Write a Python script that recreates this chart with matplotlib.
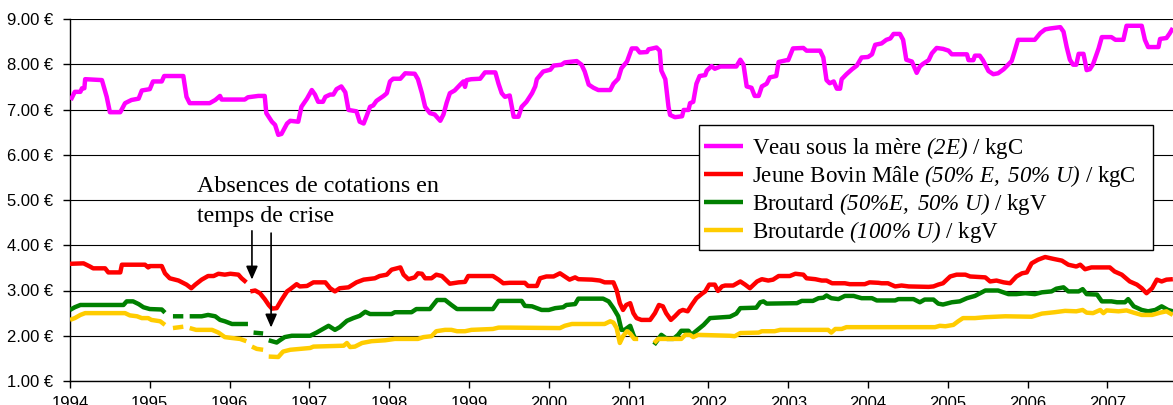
import numpy as np
import matplotlib
matplotlib.use("Agg")
import matplotlib.pyplot as plt
from matplotlib.ticker import FuncFormatter, MultipleLocator

nan = np.nan

# Veau sous la mère (2E) / kgC
veau_t = [1994.01, 1994.06, 1994.13, 1994.15, 1994.18, 1994.19, 1994.40, 1994.46, 1994.50, 1994.63,
          1994.69, 1994.77, 1994.86, 1994.90, 1995.00, 1995.04, 1995.15, 1995.18, 1995.42, 1995.46,
          1995.50, 1995.75, 1995.82, 1995.88, 1995.90, 1996.19, 1996.23, 1996.36, 1996.44, 1996.46,
          1996.53, 1996.57, 1996.61, 1996.65, 1996.72, 1996.76, 1996.86, 1996.90, 1996.97, 1997.03,
          1997.07, 1997.11, 1997.17, 1997.20, 1997.26, 1997.30, 1997.34, 1997.40, 1997.45, 1997.49,
          1997.59, 1997.63, 1997.68, 1997.72, 1997.76, 1997.80, 1997.84, 1997.93, 1997.97, 1998.01,
          1998.05, 1998.14, 1998.20, 1998.32, 1998.36, 1998.41, 1998.45, 1998.51, 1998.57, 1998.64,
          1998.68, 1998.72, 1998.76, 1998.82, 1998.89, 1998.93, 1998.95, 1998.97, 1999.03, 1999.14,
          1999.20, 1999.33, 1999.37, 1999.41, 1999.45, 1999.51, 1999.56, 1999.62, 1999.66, 1999.72,
          1999.79, 1999.83, 1999.85, 1999.93, 2000.02, 2000.06, 2000.16, 2000.20, 2000.35, 2000.41,
          2000.45, 2000.50, 2000.56, 2000.62, 2000.77, 2000.81, 2000.87, 2000.91, 2000.98, 2001.04,
          2001.10, 2001.14, 2001.23, 2001.25, 2001.35, 2001.39, 2001.41, 2001.46, 2001.50, 2001.52,
          2001.58, 2001.67, 2001.69, 2001.75, 2001.77, 2001.81, 2001.85, 2001.89, 2001.96, 2001.98,
          2002.04, 2002.08, 2002.15, 2002.35, 2002.40, 2002.44, 2002.48, 2002.54, 2002.58, 2002.63,
          2002.67, 2002.73, 2002.77, 2002.85, 2002.88, 2002.98, 2003.00, 2003.06, 2003.19, 2003.23,
          2003.40, 2003.44, 2003.48, 2003.52, 2003.57, 2003.61, 2003.65, 2003.67, 2003.73, 2003.80,
          2003.86, 2003.92, 2004.00, 2004.05, 2004.09, 2004.17, 2004.23, 2004.28, 2004.32, 2004.40,
          2004.44, 2004.48, 2004.55, 2004.61, 2004.65, 2004.69, 2004.76, 2004.80, 2004.86, 2004.94,
          2005.01, 2005.05, 2005.24, 2005.26, 2005.32, 2005.34, 2005.40, 2005.44, 2005.51, 2005.57,
          2005.63, 2005.70, 2005.76, 2005.80, 2005.84, 2005.88, 2006.09, 2006.16, 2006.22, 2006.28,
          2006.41, 2006.45, 2006.49, 2006.53, 2006.57, 2006.61, 2006.64, 2006.70, 2006.72, 2006.74,
          2006.78, 2006.82, 2006.89, 2006.93, 2007.05, 2007.10, 2007.20, 2007.24, 2007.43, 2007.47,
          2007.51, 2007.64, 2007.66, 2007.74, 2007.78, 2007.82]
veau_v = [7.21, 7.39, 7.39, 7.47, 7.47, 7.67, 7.65, 7.28, 6.94, 6.94,
          7.14, 7.21, 7.24, 7.42, 7.45, 7.62, 7.62, 7.74, 7.74, 7.28,
          7.14, 7.14, 7.21, 7.30, 7.22, 7.22, 7.27, 7.30, 7.30, 6.92,
          6.73, 6.66, 6.44, 6.46, 6.69, 6.75, 6.73, 7.06, 7.24, 7.43,
          7.33, 7.17, 7.17, 7.28, 7.33, 7.33, 7.45, 7.51, 7.38, 6.99,
          6.96, 6.73, 6.69, 6.87, 7.06, 7.09, 7.19, 7.30, 7.36, 7.62,
          7.68, 7.68, 7.80, 7.79, 7.67, 7.36, 7.06, 6.92, 6.89, 6.75,
          6.89, 7.15, 7.36, 7.42, 7.55, 7.62, 7.50, 7.65, 7.67, 7.68,
          7.82, 7.82, 7.57, 7.36, 7.28, 7.31, 6.84, 6.84, 7.06, 7.17,
          7.36, 7.51, 7.67, 7.84, 7.88, 7.97, 7.99, 8.04, 8.07, 7.99,
          7.84, 7.55, 7.48, 7.43, 7.43, 7.57, 7.68, 7.91, 8.06, 8.35,
          8.35, 8.26, 8.27, 8.33, 8.37, 8.30, 7.86, 7.67, 7.06, 6.88,
          6.83, 6.85, 6.99, 6.99, 7.14, 7.17, 7.57, 7.74, 7.76, 7.86,
          7.96, 7.90, 7.95, 7.95, 8.10, 7.99, 7.51, 7.48, 7.30, 7.30,
          7.51, 7.57, 7.71, 7.74, 8.05, 8.09, 8.09, 8.35, 8.36, 8.30,
          8.30, 8.15, 7.65, 7.58, 7.62, 7.46, 7.46, 7.67, 7.78, 7.89,
          7.97, 8.15, 8.16, 8.22, 8.43, 8.46, 8.54, 8.57, 8.67, 8.67,
          8.54, 8.10, 8.06, 7.81, 7.95, 8.01, 8.09, 8.24, 8.36, 8.34,
          8.30, 8.22, 8.22, 8.09, 8.09, 8.19, 8.19, 8.09, 7.85, 7.78,
          7.80, 7.89, 8.00, 8.07, 8.30, 8.54, 8.54, 8.69, 8.77, 8.79,
          8.82, 8.72, 8.38, 8.10, 7.99, 7.99, 8.23, 8.23, 8.06, 7.87,
          7.89, 8.00, 8.35, 8.60, 8.60, 8.54, 8.54, 8.85, 8.85, 8.54,
          8.38, 8.38, 8.56, 8.58, 8.68, 8.80]

# Jeune Bovin Mâle (50% E, 50% U) / kgC
jb_t = [1994.00, 1994.17, 1994.25, 1994.29, 1994.44, 1994.48, 1994.63, 1994.65, 1994.94, 1994.98,
        1995.00, 1995.15, 1995.19, 1995.25, 1995.36, 1995.46, 1995.52, 1995.57, 1995.65, 1995.73,
        1995.80, 1995.86, 1995.94, 1996.01, 1996.11, 1996.15, 1996.21, 1996.235, 1996.26, 1996.32,
        1996.38, 1996.44, 1996.49, 1996.53, 1996.59, 1996.65, 1996.72, 1996.76, 1996.84, 1996.88,
        1996.97, 1997.05, 1997.20, 1997.26, 1997.32, 1997.38, 1997.49, 1997.59, 1997.68, 1997.82,
        1997.88, 1997.97, 1998.03, 1998.14, 1998.18, 1998.24, 1998.32, 1998.36, 1998.41, 1998.45,
        1998.53, 1998.59, 1998.66, 1998.76, 1998.87, 1998.95, 1998.99, 1999.30, 1999.37, 1999.43,
        1999.51, 1999.70, 1999.74, 1999.85, 1999.89, 1999.97, 2000.06, 2000.14, 2000.20, 2000.26,
        2000.33, 2000.37, 2000.54, 2000.64, 2000.70, 2000.81, 2000.85, 2000.89, 2000.93, 2000.97,
        2001.02, 2001.06, 2001.10, 2001.16, 2001.27, 2001.33, 2001.38, 2001.43, 2001.47, 2001.53,
        2001.58, 2001.64, 2001.68, 2001.74, 2001.79, 2001.85, 2001.92, 2001.96, 2002.01, 2002.08,
        2002.12, 2002.17, 2002.21, 2002.31, 2002.40, 2002.46, 2002.52, 2002.61, 2002.67, 2002.75,
        2002.81, 2002.88, 2003.02, 2003.09, 2003.19, 2003.23, 2003.34, 2003.42, 2003.48, 2003.55,
        2003.71, 2003.77, 2003.96, 2004.02, 2004.13, 2004.17, 2004.25, 2004.34, 2004.42, 2004.51,
        2004.76, 2004.82, 2004.88, 2004.94, 2005.03, 2005.11, 2005.22, 2005.28, 2005.47, 2005.53,
        2005.61, 2005.70, 2005.78, 2005.86, 2005.93, 2005.99, 2006.05, 2006.13, 2006.22, 2006.32,
        2006.43, 2006.51, 2006.61, 2006.66, 2006.72, 2006.80, 2007.03, 2007.09, 2007.18, 2007.28,
        2007.37, 2007.43, 2007.49, 2007.56, 2007.62, 2007.68, 2007.74, 2007.82]
jb_v = [3.59, 3.60, 3.53, 3.49, 3.49, 3.40, 3.40, 3.57, 3.57, 3.51,
        3.54, 3.54, 3.38, 3.27, 3.22, 3.13, 3.05, 3.13, 3.24, 3.32,
        3.32, 3.37, 3.35, 3.37, 3.35, 3.27, 3.18, nan, 2.98, 3.00,
        2.94, 2.81, 2.68, 2.60, 2.61, 2.79, 2.98, 3.03, 3.14, 3.09,
        3.10, 3.18, 3.18, 3.05, 2.98, 3.05, 3.07, 3.18, 3.24, 3.27,
        3.32, 3.35, 3.46, 3.51, 3.35, 3.25, 3.29, 3.38, 3.37, 3.27,
        3.27, 3.35, 3.32, 3.15, 3.18, 3.19, 3.32, 3.32, 3.24, 3.16,
        3.17, 3.17, 3.10, 3.10, 3.27, 3.31, 3.31, 3.38, 3.31, 3.24,
        3.29, 3.25, 3.24, 3.22, 3.18, 3.18, 3.01, 2.72, 2.57, 2.68,
        2.72, 2.50, 2.39, 2.35, 2.35, 2.50, 2.68, 2.65, 2.50, 2.35,
        2.43, 2.54, 2.57, 2.54, 2.68, 2.83, 2.93, 2.98, 3.13, 3.13,
        2.99, 3.09, 3.11, 3.11, 3.20, 3.13, 3.05, 3.20, 3.25, 3.22,
        3.24, 3.32, 3.32, 3.37, 3.35, 3.27, 3.25, 3.22, 3.22, 3.16,
        3.16, 3.14, 3.14, 3.18, 3.17, 3.16, 3.16, 3.09, 3.11, 3.09,
        3.08, 3.09, 3.13, 3.16, 3.31, 3.35, 3.35, 3.31, 3.29, 3.20,
        3.22, 3.18, 3.16, 3.31, 3.38, 3.40, 3.60, 3.68, 3.74, 3.70,
        3.66, 3.57, 3.53, 3.57, 3.47, 3.51, 3.51, 3.42, 3.35, 3.20,
        3.13, 3.05, 2.94, 3.05, 3.24, 3.20, 3.24, 3.25]

# Broutard (50%E, 50% U) / kgV
broutard_t = [1994.00, 1994.06, 1994.13, 1994.67, 1994.71, 1994.79, 1994.86, 1994.92, 1995.00, 1995.15,
              1995.19, 1995.25, 1995.29, 1995.42, 1995.46, 1995.50, 1995.65, 1995.73, 1995.82, 1995.88,
              1995.94, 1996.03, 1996.23, 1996.265, 1996.30, 1996.42, 1996.455, 1996.49, 1996.59, 1996.63,
              1996.69, 1996.78, 1997.01, 1997.09, 1997.15, 1997.24, 1997.32, 1997.38, 1997.47, 1997.55,
              1997.63, 1997.70, 1997.76, 1998.03, 1998.07, 1998.28, 1998.34, 1998.51, 1998.60, 1998.70,
              1998.78, 1998.85, 1999.30, 1999.37, 1999.66, 1999.70, 1999.79, 1999.91, 2000.00, 2000.08,
              2000.18, 2000.22, 2000.33, 2000.37, 2000.68, 2000.75, 2000.81, 2000.87, 2000.91, 2000.95,
              2001.02, 2001.06, 2001.09, 2001.20, 2001.32, 2001.41, 2001.48, 2001.56, 2001.62, 2001.66,
              2001.75, 2001.79, 2001.85, 2001.94, 2002.02, 2002.27, 2002.35, 2002.40, 2002.60, 2002.65,
              2002.69, 2002.73, 2003.11, 2003.17, 2003.31, 2003.38, 2003.44, 2003.48, 2003.54, 2003.63,
              2003.71, 2003.82, 2003.92, 2004.05, 2004.11, 2004.34, 2004.38, 2004.57, 2004.65, 2004.71,
              2004.82, 2004.88, 2004.94, 2005.05, 2005.15, 2005.24, 2005.34, 2005.47, 2005.63, 2005.76,
              2005.86, 2005.97, 2006.09, 2006.18, 2006.30, 2006.36, 2006.45, 2006.51, 2006.64, 2006.69,
              2006.74, 2006.87, 2006.93, 2007.05, 2007.12, 2007.22, 2007.26, 2007.33, 2007.43, 2007.51,
              2007.60, 2007.68, 2007.76, 2007.82]
broutard_v = [2.57, 2.63, 2.68, 2.68, 2.76, 2.76, 2.70, 2.63, 2.59, 2.58,
              2.51, nan, 2.43, 2.43, nan, 2.43, 2.43, 2.46, 2.43, 2.35,
              2.32, 2.26, 2.26, nan, 2.07, 2.05, nan, 1.90, 1.85, 1.90,
              1.97, 2.00, 2.00, 2.07, 2.13, 2.22, 2.13, 2.19, 2.33, 2.39,
              2.44, 2.53, 2.48, 2.48, 2.52, 2.52, 2.59, 2.59, 2.79, 2.79,
              2.68, 2.59, 2.59, 2.77, 2.77, 2.66, 2.65, 2.57, 2.57, 2.61,
              2.63, 2.68, 2.70, 2.82, 2.82, 2.76, 2.61, 2.43, 2.13, 2.13,
              2.22, 2.02, 1.91, nan, 1.80, 2.02, 1.93, 1.93, 2.02, 2.11,
              2.11, 2.02, 2.11, 2.24, 2.39, 2.42, 2.49, 2.61, 2.62, 2.74,
              2.76, 2.71, 2.72, 2.77, 2.77, 2.83, 2.84, 2.89, 2.83, 2.81,
              2.88, 2.88, 2.83, 2.83, 2.78, 2.78, 2.81, 2.81, 2.74, 2.80,
              2.80, 2.71, 2.69, 2.74, 2.76, 2.83, 2.88, 3.00, 3.00, 2.92,
              2.92, 2.94, 2.92, 2.96, 2.98, 3.04, 3.07, 2.98, 2.98, 3.03,
              2.92, 2.91, 2.76, 2.76, 2.74, 2.74, 2.81, 2.65, 2.57, 2.54,
              2.57, 2.65, 2.57, 2.54]

# Broutarde (100% U) / kgV
broutarde_t = [1994.00, 1994.06, 1994.13, 1994.19, 1994.69, 1994.75, 1994.84, 1994.90, 1994.98, 1995.02,
               1995.13, 1995.19, 1995.25, 1995.29, 1995.42, 1995.46, 1995.50, 1995.58, 1995.78, 1995.86,
               1995.94, 1996.03, 1996.13, 1996.21, 1996.245, 1996.28, 1996.34, 1996.42, 1996.455, 1996.49,
               1996.61, 1996.67, 1996.76, 1997.01, 1997.05, 1997.43, 1997.47, 1997.51, 1997.57, 1997.66,
               1997.78, 1997.95, 1998.07, 1998.36, 1998.43, 1998.53, 1998.59, 1998.70, 1998.78, 1998.85,
               1998.95, 1999.03, 1999.30, 1999.37, 1999.51, 2000.14, 2000.20, 2000.29, 2000.70, 2000.77,
               2000.81, 2000.85, 2000.89, 2000.93, 2000.98, 2001.02, 2001.07, 2001.12, 2001.20, 2001.32,
               2001.37, 2001.66, 2001.71, 2001.77, 2001.81, 2001.87, 2002.27, 2002.33, 2002.40, 2002.63,
               2002.67, 2002.83, 2002.90, 2003.50, 2003.54, 2003.59, 2003.67, 2003.73, 2004.84, 2004.90,
               2004.97, 2005.07, 2005.13, 2005.19, 2005.34, 2005.47, 2005.72, 2006.05, 2006.18, 2006.34,
               2006.47, 2006.61, 2006.69, 2006.74, 2006.82, 2006.91, 2006.95, 2006.99, 2007.14, 2007.24,
               2007.33, 2007.43, 2007.56, 2007.66, 2007.74, 2007.82]
broutarde_v = [2.35, 2.39, 2.46, 2.50, 2.50, 2.45, 2.43, 2.39, 2.39, 2.35,
               2.32, 2.24, nan, 2.17, 2.20, nan, 2.17, 2.13, 2.13, 2.07,
               1.97, 1.95, 1.93, 1.88, nan, 1.76, 1.71, 1.69, nan, 1.54,
               1.53, 1.65, 1.69, 1.73, 1.76, 1.78, 1.84, 1.75, 1.76, 1.84,
               1.88, 1.90, 1.93, 1.93, 1.97, 1.99, 2.10, 2.13, 2.13, 2.10,
               2.10, 2.13, 2.15, 2.18, 2.18, 2.17, 2.22, 2.26, 2.26, 2.32,
               2.29, 2.17, 1.84, 1.99, 2.10, 2.05, 1.93, 1.93, nan, 1.84,
               1.93, 1.93, 2.02, 2.02, 1.97, 2.02, 2.00, 1.99, 2.06, 2.07,
               2.10, 2.10, 2.13, 2.13, 2.07, 2.15, 2.15, 2.19, 2.19, 2.22,
               2.21, 2.24, 2.32, 2.39, 2.39, 2.41, 2.43, 2.42, 2.49, 2.52,
               2.55, 2.54, 2.57, 2.51, 2.50, 2.57, 2.50, 2.56, 2.54, 2.56,
               2.51, 2.46, 2.46, 2.51, 2.54, 2.46]

# italic parts are set in mathtext, whose fonts are mapped to Liberation Serif Italic below
labels = [
    r"Veau sous la mère $(2E)$ / kgC",
    r"Jeune Bovin Mâle $(50\%\ E,\ 50\%\ U)$ / kgC",
    r"Broutard $(50\%E,\ 50\%\ U)$ / kgV",
    r"Broutarde $(100\%\ U)$ / kgV",
]
colors = ["#FF00FF", "#FF0000", "#008000", "#FFCC00"]
years = list(range(1994, 2008))

plt.rcParams["mathtext.fontset"] = "custom"
plt.rcParams["mathtext.rm"] = "Liberation Serif:italic"
plt.rcParams["mathtext.it"] = "Liberation Serif:italic"
plt.rcParams["mathtext.bf"] = "Liberation Serif:italic"

fig = plt.figure(figsize=(11.73, 4.05), dpi=100)
W, H = 1173, 405
ax = fig.add_axes([70 / W, (H - 381) / H, (W - 70) / W, (381 - 19) / H])

series = [(veau_t, veau_v), (jb_t, jb_v), (broutard_t, broutard_v), (broutarde_t, broutarde_v)]
for (t, v), c, lab in zip(series, colors, labels):
    ax.plot(t, v, color=c, lw=3.2, label=lab + "   ", solid_capstyle="butt", zorder=3)

ax.set_xlim(1994, 1994 + 1103 / 79.8)
ax.set_ylim(1, 9)
ax.yaxis.set_major_locator(MultipleLocator(1))
ax.yaxis.set_major_formatter(FuncFormatter(lambda v, p: f"{v:.2f} €"))
ax.set_xticks(years)
ax.set_xticklabels([str(y) for y in years])
ax.grid(axis="y", color="black", lw=0.8, zorder=1)
for s in ("top", "right"):
    ax.spines[s].set_visible(False)
for s in ("left", "bottom"):
    ax.spines[s].set_color("black")
    ax.spines[s].set_linewidth(1.0)
ax.tick_params(axis="both", direction="out", length=5, width=1, colors="black", labelsize=12)
ax.tick_params(axis="y", pad=7)
ax.tick_params(axis="x", pad=5.5)
for lbl in ax.get_xticklabels() + ax.get_yticklabels():
    lbl.set_fontfamily("Liberation Sans")

# a tiny blank title gives the extra room above the first entry
leg = ax.legend(loc="upper left", bbox_to_anchor=((699 - 70) / 1103, (381 - 125) / 362),
                borderaxespad=0, prop={"family": "Liberation Serif", "size": 16.5},
                title=" ", title_fontsize=3,
                frameon=True, fancybox=False, edgecolor="black", framealpha=1,
                handlelength=1.7, handletextpad=0.4, labelspacing=0.08, borderpad=0.2)
leg.get_frame().set_linewidth(1.0)

# annotation: missing quotations during the crisis
ax.text(1995.59, 5.52, "Absences de cotations en\ntemps de crise",
        family="Liberation Serif", fontsize=17.3, va="top", ha="left", linespacing=1.52)
arrow_kw = dict(arrowstyle="-|>,head_length=0.8,head_width=0.35", color="black", lw=1.2)
ax.annotate("", xy=(1996.28, 3.18), xytext=(1996.28, 4.38), arrowprops=arrow_kw)
ax.annotate("", xy=(1996.52, 2.12), xytext=(1996.52, 4.33), arrowprops=arrow_kw)

fig.savefig("out.png", dpi=100)
